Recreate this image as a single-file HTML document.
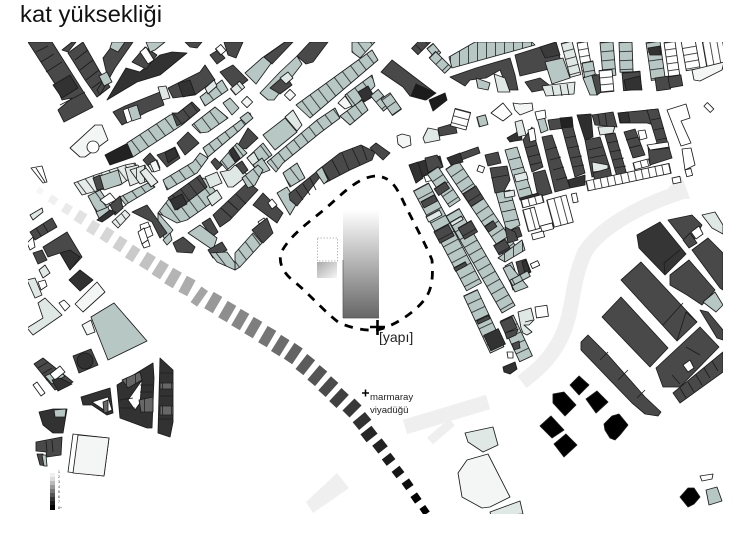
<!DOCTYPE html>
<html><head><meta charset="utf-8"><style>
html,body{margin:0;padding:0;background:#fff}
svg{display:block}
#m *{stroke:#1c1c1c;stroke-width:.85;stroke-linejoin:round}
.d{fill:url(#pd)}.k{fill:url(#pk)}.t{fill:url(#pt)}.l{fill:url(#pl)}.w{fill:url(#pw)}.x{fill:url(#px)}
.ta{fill:url(#ta)}.da{fill:url(#da)}.la{fill:url(#la)}
.D{fill:#4a4a4a}.K{fill:#303030}.T{fill:#b6c7c4}.L{fill:#dfe8e5}.W{fill:#fff}.X{fill:#f3f6f5}.B{fill:#000;stroke:#000}
</style></head><body>
<svg width="750" height="540" viewBox="0 0 750 540" xmlns="http://www.w3.org/2000/svg">
<defs>
<pattern id="pd" patternUnits="userSpaceOnUse" width="9" height="20"><rect width="9" height="20" fill="#4a4a4a"/><rect width=".8" height="20" fill="#1c1c1c"/></pattern>
<pattern id="pk" patternUnits="userSpaceOnUse" width="9" height="20"><rect width="9" height="20" fill="#2e2e2e"/><rect width=".8" height="20" fill="#111"/></pattern>
<pattern id="pt" patternUnits="userSpaceOnUse" width="9" height="20"><rect width="9" height="20" fill="#b6c7c4"/><rect width=".8" height="20" fill="#222"/></pattern>
<pattern id="pl" patternUnits="userSpaceOnUse" width="8" height="20"><rect width="8" height="20" fill="#dfe8e5"/><rect width=".8" height="20" fill="#222"/></pattern>
<pattern id="pw" patternUnits="userSpaceOnUse" width="7" height="20"><rect width="7" height="20" fill="#fff"/><rect width=".8" height="20" fill="#222"/></pattern>
<pattern id="px" patternUnits="userSpaceOnUse" width="9" height="20"><rect width="9" height="20" fill="#666"/><rect width=".8" height="20" fill="#222"/></pattern>
<pattern id="ta" patternUnits="userSpaceOnUse" width="10" height="30" patternTransform="rotate(-37)"><rect width="10" height="30" fill="#b6c7c4"/><rect width=".8" height="30" fill="#222"/></pattern>
<pattern id="da" patternUnits="userSpaceOnUse" width="10" height="30" patternTransform="rotate(-37)"><rect width="10" height="30" fill="#4a4a4a"/><rect width=".8" height="30" fill="#1c1c1c"/></pattern>
<pattern id="la" patternUnits="userSpaceOnUse" width="8" height="30" patternTransform="rotate(-37)"><rect width="8" height="30" fill="#e6ecea"/><rect width=".8" height="30" fill="#222"/></pattern>
<linearGradient id="g1" x1="0" y1="0" x2="0" y2="1"><stop offset="0" stop-color="#fff"/><stop offset="1" stop-color="#666"/></linearGradient>
<linearGradient id="g2" x1="0" y1="0" x2="1" y2="1"><stop offset="0" stop-color="#aaa"/><stop offset="1" stop-color="#f6f6f6"/></linearGradient>
<clipPath id="c"><rect x="28" y="42" width="695" height="472"/></clipPath>
<filter id="b" x="-5%" y="-5%" width="110%" height="110%"><feGaussianBlur stdDeviation=".3"/></filter>
</defs>
<rect width="750" height="540" fill="#fff"/>
<text x="20" y="22" font-family="Liberation Sans, sans-serif" font-size="23" textLength="142" lengthAdjust="spacingAndGlyphs" fill="#111">kat yüksekliği</text>

<g clip-path="url(#c)"><g filter="url(#b)">
<!-- roads -->
<path d="M682 192C640 205 600 228 585 252C570 285 575 310 560 340C548 362 535 372 522 382" stroke="#efefef" stroke-width="15" fill="none"/>
<path d="M405 427L488 402" stroke="#efefef" stroke-width="15" fill="none"/>
<path d="M430 441L452 422" stroke="#efefef" stroke-width="9" fill="none"/>
<polygon points="306,502 337,473 349,488 313,513" fill="#efefef"/>
<polygon points="668,188 682,176 690,199 672,198" fill="#efefef"/>
<g id="m">
<!-- top left -->
<polygon class="D" points="28,42 52,42 93,107 64,122 58,110 72,98 62,100 55,84"/>
<polygon class="K" points="53,85 70,75 78,88 62,98"/>
<path d="M36,52L48,46M41,62L54,54M46,72L62,62M60,105L85,92" fill="none"/>
<polygon class="D" points="62,50 72,42 76,42 68,52"/>
<polygon class="D" points="68,53 83,42 100,72 110,87 97,97 85,80"/>
<path d="M75,60L88,50M80,70L93,60M86,80L99,70M92,88L103,80" fill="none"/>
<polygon class="D" points="103,58 115,42 133,42 115,68 100,95 97,90 107,75"/>
<polygon class="T" points="112,42 125,42 118,52 110,48"/>
<polygon class="T" points="99,76 107,72 112,82 104,86"/>
<polygon class="K" points="107,100 126,68 140,72 160,55 172,52 187,53 160,75 137,82"/>
<polygon class="D" points="132,62 145,47 157,55 146,69"/>
<polygon class="W" points="140,52 146,47 154,60 148,64"/>
<polygon class="T" points="146,42 165,42 155,50 150,52"/>
<polygon class="D" points="185,42 202,42 197,48 190,47"/>
<polygon class="D" points="224,42 243,42 236,58 228,55"/>
<polygon class="D" points="210,55 218,50 225,58 217,64"/>
<rect class="w" transform="translate(218,52) rotate(-40)" x="0" y="-4" width="7" height="8"/>
<!-- upper diag -->
<polygon class="T" points="245,73 262,58 285,42 292,42 272,62 256,84"/>
<polygon class="D" points="264,57 285,42 293,42 272,64"/>
<polygon class="T" points="260,93 280,72 297,56 302,64 274,100 268,100"/>
<polygon class="D" points="270,88 285,75 292,85 280,94"/>
<polygon class="L" points="280,78 288,72 293,78 286,84"/>
<polygon class="D" points="297,56 310,42 328,42 313,62 306,64"/>
<polygon class="D" points="220,72 233,65 248,80 235,90"/>
<rect class="X" transform="translate(290,95) rotate(-45)" x="-4" y="-4" width="8" height="8"/>
<rect class="l" transform="translate(233,92) rotate(-40)" y="-4" width="12" height="8"/>
<rect class="X" transform="translate(247,102) rotate(-45)" x="-4" y="-4" width="8" height="8"/>
<!-- strip row 0 -->
<polygon class="D" points="113,112 125,106 160,92 164,105 147,112 122,125"/>
<polygon class="W" points="123,110 128,108 133,120 127,123"/>
<polygon class="T" points="128,108 137,105 141,118 132,121"/>
<polygon class="L" points="158,87 166,86 170,98 162,100"/>
<polygon class="D" points="168,88 200,72 205,65 215,80 195,95 173,98"/>
<polygon class="K" points="178,83 190,80 195,94 183,97"/>
<!-- strip row 1 -->
<polygon fill="#222" points="105,155 128,143 133,157 110,165"/>
<polygon class="ta" points="127,143 170,115 178,113 192,102 200,110 182,125 133,157"/>
<polygon class="da" points="172,113 178,113 192,102 200,110 185,122 177,126"/>
<polygon class="ta" points="200,97 222,80 228,90 205,106"/>
<polygon class="L" points="205,88 214,80 217,86 208,94"/>
<polygon class="ta" points="192,125 215,107 228,118 208,132 200,133"/>
<polygon class="T" points="223,103 230,98 239,108 232,115"/>
<polygon class="ta" points="203,148 237,123 250,113 252,118 240,130 208,157"/>
<polygon class="T" points="240,118 248,112 253,118 246,124"/>
<polygon class="D" points="177,143 188,132 199,143 185,155"/>
<polygon class="D" points="157,155 165,152 175,147 180,158 167,167"/>
<polygon class="K" points="165,152 175,148 178,156 168,163"/>
<polygon class="D" points="143,160 150,153 156,160 149,167"/>
<polygon class="L" points="148,165 155,162 158,169 152,172"/>
<polygon class="ta" points="163,180 193,162 200,153 208,158 197,173 167,190"/>
<polygon class="D" points="237,147 248,128 258,138 246,149"/>
<polygon class="ta" points="220,162 237,143 247,153 227,170"/>
<polygon class="K" points="229,151 233,147 240,158 235,162"/>
<polygon class="D" points="211,162 215,158 222,165 217,170"/>
<polygon class="L" points="220,172 230,170 235,165 248,175 233,187 228,187"/>
<polygon class="D" points="236,165 242,161 248,170 243,174"/>
<polygon class="T" points="263,135 285,118 297,132 275,150"/>
<polygon class="L" points="285,117 293,110 302,125 297,131"/>
<polygon class="ta" points="247,158 263,143 272,155 255,168"/>
<polygon class="L" points="247,158 254,152 260,163 255,168"/>
<polygon class="ta" points="267,162 317,120 335,108 340,118 320,133 283,163 276,172"/>
<polygon class="ta" points="296,105 372,50 378,60 310,118"/>
<polygon class="ta" points="345,95 372,75 375,86 353,108"/>
<polygon class="ta" points="340,116 362,100 368,110 350,125"/>
<polygon class="X" points="338,103 345,96 352,106 345,109"/>
<polygon class="K" points="358,92 368,86 374,96 364,102"/>
<polygon class="ta" points="352,42 375,42 360,58 352,52"/>
<polygon class="T" points="277,193 287,187 297,203 290,215"/>
<polygon class="ta" points="283,173 297,163 305,178 290,187"/>
<polygon class="T" points="253,165 262,158 270,170 260,174"/>
<polygon class="D" points="253,205 263,193 283,213 277,223"/>
<polygon class="W" points="268,203 272,199 277,205 272,209"/>
<polygon class="W" points="258,222 264,218 270,226 264,230"/>
<polygon class="D" points="252,230 258,225 267,218 273,233 263,243"/>
<polygon class="ta" points="235,253 253,233 262,243 240,267 235,270"/>
<polygon class="D" points="213,215 248,182 258,190 230,220 220,227"/>
<path d="M221,208L232,218M228,201L238,210M236,194L246,204" fill="none"/>
<polygon class="ta" points="242,178 258,165 263,170 255,185 248,188"/>
<polygon class="D" points="202,223 210,218 218,232 212,237"/>
<polygon class="T" points="188,233 200,225 217,238 213,250"/>
<polygon class="D" points="208,250 222,242 227,250 213,258"/>
<polygon class="ta" points="210,253 227,252 235,263 235,270 217,262"/>
<polygon class="ta" points="158,213 168,200 203,178 207,180 220,197 187,220 177,223"/>
<polygon class="da" points="168,198 200,175 207,187 177,210"/>
<polygon class="K" points="170,200 182,194 187,204 175,210"/>
<polygon class="L" points="205,177 217,172 222,183 210,188"/>
<polygon class="L" points="207,197 217,190 222,198 212,206"/>
<polygon class="T" points="158,213 173,230 165,240 158,225"/>
<polygon class="D" points="132,212 147,205 167,233 160,238 152,222"/>
<polygon class="W" points="140,225 148,222 153,235 143,240"/>
<path d="M141,230L151,226" fill="none"/>
<polygon class="T" points="163,240 170,233 172,240 167,245"/>
<polygon class="D" points="173,243 183,237 195,247 192,253 177,252"/>
<!-- left light cluster -->
<polygon class="la" points="74,183 95,175 125,165 135,163 140,172 120,185 100,190 82,195"/>
<polygon class="D" points="93,178 100,175 105,188 97,190"/>
<polygon class="T" points="100,176 118,170 122,184 104,190"/>
<polygon class="L" points="125,168 138,165 145,180 130,186"/>
<polygon class="l" points="130,170 145,165 150,180 140,184"/>
<polygon class="ta" points="88,196 100,190 110,205 98,215"/>
<polygon class="W" points="100,200 110,193 116,200 106,205"/>
<polygon class="ta" points="120,197 150,182 155,187 125,205"/>
<polygon class="W" points="110,205 120,198 126,205 115,212"/>
<polygon class="D" points="110,205 120,196 123,208 115,215"/>
<polygon class="T" points="96,212 108,207 111,215 100,220"/>
<polygon class="K" points="97,220 110,210 116,212 108,218 102,222"/>
<polygon class="la" points="112,222 125,210 130,215 118,228"/>
<polygon class="W" points="138,232 144,228 148,240 142,244"/>
<polygon class="W" points="142,244 148,240 150,246 144,248"/>
<polygon class="T" points="152,163 157,160 160,168 154,171"/>
<polygon class="X" points="150,163 156,160 160,170 154,172"/>
<polygon class="la" points="140,172 146,168 158,182 151,187"/>
<!-- dark arc -->
<polygon class="D" points="289,194 315,173 318,170 340,153 361,145 375,152 372,160 350,170 325,183 320,177 297,206 290,200"/>
<path d="M296,190L303,200M303,184L310,195M310,178L316,190M322,167L330,181M332,160L340,175M342,153L349,170M352,148L360,165M362,146L367,160" fill="none"/>
<polygon class="T" points="316,172 322,167 328,180 324,184"/>
<!-- top centre diag -->
<polygon class="D" points="381,72 392,60 434,92 425,100 410,96 403,87"/>
<polygon fill="#1e1e1e" points="416,84 436,93 426,100 411,96"/>
<polygon fill="#1e1e1e" points="429,100 445,93 447,100 433,111"/>
<rect class="d" transform="translate(425,42) rotate(-45)" x="-14" y="-5" width="20" height="9"/>
<rect class="t" transform="translate(430,46) rotate(50)" y="-4" width="12" height="8"/>
<rect class="t" transform="translate(432,55) rotate(45)" y="-5" width="22" height="9"/>
<rect class="t" transform="translate(378,100) rotate(50)" x="-8" y="-7" width="20" height="10"/>
<rect class="t" transform="translate(390,105) rotate(55)" x="-10" y="-7" width="20" height="11"/>
<polygon class="D" points="376,143 390,153 383,160 370,148"/>
<!-- upper right top block -->
<polygon class="t" points="449,57 452,68 535,45 532,42 475,42"/>
<polygon class="D" points="450,77 476,68 510,58 515,75 518,90 508,90 500,70 486,78 470,80 465,86"/>
<polygon class="T" points="476,78 490,83 488,90 478,88"/>
<polygon class="L" points="494,74 505,78 510,92 498,92"/>
<polygon class="D" points="515,55 556,42 562,66 520,76"/>
<polygon fill="#3a3a3a" points="540,47 556,42 560,55 545,58"/>
<polygon class="T" points="545,62 563,58 570,78 552,84"/>
<polygon class="D" points="525,82 540,78 553,88 532,92"/>
<polygon class="L" points="542,86 575,82 574,94 546,96"/>
<path d="M552,86L554,96M560,85L562,96M567,84L569,95" fill="none"/>
<!-- cols top -->
<rect class="l" transform="translate(567,42) rotate(75)" y="-5" width="35" height="11"/>
<rect class="w" transform="translate(582,42) rotate(80)" y="-5" width="35" height="10"/>
<rect class="t" transform="translate(587,62) rotate(80)" y="-6" width="20" height="11"/>
<polygon class="T" points="583,78 596,74 603,88 597,95 590,95"/>
<polygon class="D" points="592,76 601,74 604,90 597,95"/>
<rect class="t" transform="translate(606,42) rotate(85)" y="-7" width="34" height="13"/>
<rect class="w" transform="translate(605,70) rotate(85)" y="-7" width="22" height="13"/>
<rect class="t" transform="translate(625,42) rotate(88)" y="-7" width="30" height="13"/>
<rect class="d" transform="translate(631,72) rotate(85)" x="0" y="-9" width="18" height="18"/>
<polygon class="K" points="624,80 640,76 642,90 626,90"/>
<rect class="t" transform="translate(652,42) rotate(82)" y="-8" width="38" height="14"/>
<polygon class="K" points="648,48 660,46 661,55 650,55"/>
<rect class="D" transform="translate(655,78) rotate(-8)" width="14" height="13"/>
<rect class="D" transform="translate(668,77) rotate(-10)" width="13" height="11"/>
<rect class="w" transform="translate(669,42) rotate(82)" y="-6" width="34" height="11"/>
<rect class="w" transform="translate(688,40) rotate(80)" y="-7" width="30" height="14"/>
<rect class="w" transform="translate(702,40) rotate(-10)" y="2" width="20" height="30"/>
<polygon class="X" points="692,70 724,62 722,70 700,81 694,80"/>
<!-- mid white row -->
<polygon class="L" points="423,138 428,128 438,130 440,140 425,143"/>
<polygon class="D" points="438,128 455,123 457,133 440,136"/>
<rect class="w" transform="translate(459,125) rotate(-75)" x="-3" y="-8" width="18" height="16"/>
<rect class="t" transform="translate(478,122) rotate(-15)" y="-5" width="9" height="10"/>
<polygon class="W" points="491,113 503,103 512,114 503,121"/>
<polygon class="X" points="513,103 520,104 532,103 533,110 520,115 515,110"/>
<polygon class="X" points="397,136 402,134 410,136 411,145 403,148 398,144"/>
<!-- row blocks (upper right) -->
<polygon class="K" points="507,138 521,130 522,140 515,141 510,142"/>
<polygon class="L" points="515,122 522,120 526,135 518,137"/>
<polygon class="T" points="505,150 517,147 533,197 520,200"/>
<path d="M509,160L521,157M512,170L524,167M516,180L527,177M519,190L530,187" fill="none"/>
<polygon class="L" points="514,175 526,172 528,179 516,182"/>
<polygon class="D" points="523,140 532,127 543,167 532,172"/>
<path d="M525,148L537,145M528,157L540,154M530,165L542,162" fill="none"/>
<polygon class="D" points="533,173 545,170 552,193 538,197"/>
<polygon class="K" points="520,198 538,193 540,200 523,204"/>
<polygon class="W" points="528,130 534,128 536,140 530,142"/>
<polygon class="T" points="537,118 544,116 548,130 541,133"/>
<polygon class="W" points="535,112 545,110 546,118 537,120"/>
<polygon class="D" points="542,137 552,135 570,188 555,192"/>
<path d="M546,150L557,147M550,160L561,157M553,170L564,167M556,180L567,177" fill="none"/>
<polygon class="D" points="548,120 572,117 573,127 550,130"/>
<polygon fill="#222" points="560,118 572,117 573,127 562,129"/>
<polygon class="D" points="562,128 573,127 585,173 575,177"/>
<path d="M565,138L576,136M568,148L579,146M571,158L582,156M573,167L584,165" fill="none"/>
<polygon class="K" points="568,180 585,175 585,185 570,188"/>
<polygon fill="#2e2e2e" points="577,115 591,114 593,137 585,140"/>
<polygon class="D" points="585,140 600,137 610,168 592,177"/>
<path d="M588,150L602,147M590,158L605,155" fill="none"/>
<polygon class="L" points="592,162 608,165 608,170 593,172"/>
<polygon class="D" points="593,173 610,168 612,178 595,182"/>
<polygon class="L" points="598,127 615,126 613,133 600,135"/>
<polygon class="D" points="592,115 613,112 617,127 595,125"/>
<path d="M598,114L600,125M605,113L607,126" fill="none"/>
<polygon class="D" points="605,135 615,133 627,175 617,177"/>
<path d="M607,143L618,141M610,152L621,150M613,160L624,158M615,168L626,166" fill="none"/>
<polygon class="D" points="618,113 658,109 660,127 647,123 620,123"/>
<polygon class="K" points="618,113 628,112 630,122 621,123"/>
<polygon class="D" points="647,110 658,109 672,158 650,165 648,147 657,143"/>
<path d="M651,120L661,118M654,130L664,128M657,140L667,138M652,150L670,148" fill="none"/>
<polygon class="D" points="624,132 635,129 645,155 633,158"/>
<path d="M626,140L638,137M629,148L641,145" fill="none"/>
<polygon class="W" points="638,131 645,130 647,138 640,140"/>
<rect class="w" transform="translate(633,163) rotate(-15)" width="16" height="7"/>
<polygon class="W" points="647,145 668,142 669,147 650,150"/>
<!-- white rows -->
<polygon class="W" points="667,110 686,104 690,118 681,121 691,143 681,146"/>
<polygon class="W" points="682,149 691,148 695,165 685,170"/>
<rect class="W" transform="translate(685,170) rotate(-15)" width="6" height="7"/>
<rect class="W" transform="translate(706,104) rotate(45)" y="-2" width="9" height="5"/>
<rect class="w" transform="translate(587,186) rotate(-12)" y="-5" width="85" height="10"/>
<rect class="W" transform="translate(572,197) rotate(-12)" y="-3" width="5" height="9"/>
<rect class="W" transform="translate(672,178) rotate(-12)" width="8" height="6"/>
<rect class="w" transform="translate(522,205) rotate(-15)" y="-5" width="22" height="8"/>
<rect class="w" transform="translate(524,215) rotate(-15)" y="-5" width="12" height="22"/>
<rect class="w" transform="translate(548,205) rotate(-15)" y="-5" width="20" height="28"/>
<rect class="W" transform="translate(541,228) rotate(-15)" y="-2" width="12" height="6"/>
<rect class="W" transform="translate(532,236) rotate(-15)" y="-2" width="12" height="6"/>
<rect class="W" transform="translate(478,168) rotate(20)" y="-3" width="6" height="6"/>
<!-- columns from detail crop -->
<polygon class="K" points="409,165 425,160 440,156 443,167 425,175 416,183"/>
<polygon class="D" points="425,158 437,155 443,167 428,172"/>
<polygon class="K" points="409,165 418,162 423,178 416,183"/>
<polygon class="W" points="424,176 431,174 433,180 426,182"/>
<!-- A1 -->
<rect class="t" transform="translate(421,187) rotate(62)" y="-8.500" width="113" height="17"/>
<rect class="d" transform="translate(428,198) rotate(62)" y="-7" width="7" height="15"/>
<rect class="l" transform="translate(433,213) rotate(62)" y="-7" width="6" height="15"/>
<rect class="d" transform="translate(441,228) rotate(62)" y="-8" width="13" height="16"/>
<rect class="d" transform="translate(459,265) rotate(62)" y="-7" width="4" height="13"/>
<!-- A2 -->
<rect class="t" transform="translate(433,170) rotate(56)" y="-6" width="40" height="13"/>
<rect class="d" transform="translate(440,185) rotate(56)" y="-6" width="8" height="13"/>
<!-- B1 -->
<rect class="t" transform="translate(453,212) rotate(60)" y="-7" width="112" height="15"/>
<rect class="l" transform="translate(456,219) rotate(60)" y="-6" width="4" height="13"/>
<rect class="d" transform="translate(465,224) rotate(60)" y="-7" width="13" height="15"/>
<!-- B2 -->
<rect class="t" transform="translate(452,165) rotate(56)" y="-7.500" width="105" height="15"/>
<rect class="d" transform="translate(469,190) rotate(58)" y="-8" width="15" height="15"/>
<rect class="d" transform="translate(488,224) rotate(56)" y="-6" width="7" height="10"/>
<rect class="d" transform="translate(498,243) rotate(60)" y="-8" width="11" height="13"/>
<polygon class="D" points="447,158 478,147 480,153 451,164"/>
<polygon class="K" points="447,158 460,153 463,162 451,165"/>
<!-- C -->
<polygon class="D" points="485,155 498,152 501,163 488,166"/>
<polygon class="D" points="490,168 507,166 510,180 503,193 495,193"/>
<path d="M491,178L508,175" fill="none"/>
<polygon class="T" points="496,193 510,190 520,225 507,232"/>
<path d="M499,203L513,200M502,212L516,209M505,222L519,219" fill="none"/>
<polygon class="L" points="504,192 514,190 515,196 505,198"/>
<polygon class="D" points="507,232 519,227 522,236 511,240"/>
<polygon class="t" points="498,258 522,240 525,250 505,262"/>
<polygon class="D" points="505,227 515,232 518,240 508,243"/>
<!-- lower centre -->
<polygon class="T" points="505,266 512,262 520,285 513,290"/>
<polygon class="T" points="503,268 510,265 528,287 515,292"/>
<polygon class="D" points="516,262 526,259 531,272 520,278"/>
<polygon class="K" points="522,262 526,260 530,272 525,274"/>
<rect class="W" transform="translate(533,265) rotate(-25)" x="-2" y="-2" width="8" height="5"/>
<rect class="t" transform="translate(513,282) rotate(-28)" x="-2" y="-3" width="20" height="6"/>
<!-- A3 -->
<rect class="t" transform="translate(470,293) rotate(65)" y="-8" width="63" height="15"/>
<rect class="d" transform="translate(482,318) rotate(65)" y="-7" width="4" height="13"/>
<rect class="K" transform="translate(491,332) rotate(65)" y="-8" width="17" height="16"/>
<rect class="t" transform="translate(507,318) rotate(65)" y="-7" width="45" height="14"/>
<polygon class="D" points="500,322 512,317 517,328 505,333"/>
<polygon class="D" points="505,333 518,329 516,335 507,339"/>
<polygon class="D" points="512,344 519,341 520,348 514,350"/>
<polygon class="W" points="507,352 513,352 513,358 508,358"/>
<polygon class="K" points="503,367 515,362 517,369 510,374 504,372"/>
<!-- pavilion near road -->
<polygon class="L" points="518,312 531,308 534,320 529,325 524,325 532,332 527,335 523,333 521,328"/>
<rect class="W" transform="translate(535,307) rotate(-8)" width="12" height="11"/>
<path d="M525,322L533,320" fill="none"/>
<!-- right blocks -->
<polygon fill="#363636" points="637,235 660,222 686,254 665,275 639,248"/>
<path d="M665,275L664,263L680,250" fill="none"/>
<polygon class="D" points="621,280 641,262 697,322 677,341"/>
<path d="M663,325L683,303M677,341L686,312L697,322" fill="none"/>
<polygon class="D" points="602,317 621,297 668,348 650,367"/>
<polygon class="D" points="581,342 588,335 608,355 645,397 661,412 658,416 645,414 632,403 581,350"/>
<path d="M600,360L608,352M618,380L628,370M637,398L645,390" fill="none"/>
<polygon class="D" points="668,220 692,215 702,225 690,247 682,238"/>
<polygon class="D" points="692,250 708,238 723,253 723,290 720,288"/>
<polygon class="D" points="670,275 689,260 715,290 702,305 687,295 670,285"/>
<polygon class="W" points="691,232 699,226 703,234 696,239"/>
<polygon class="D" points="683,240 690,233 697,243 689,248"/>
<polygon class="T" points="703,302 715,292 723,305 716,312"/>
<polygon class="D" points="700,310 708,312 723,330 723,340 717,338"/>
<polygon class="L" points="702,215 715,212 723,225 723,234 712,228"/>
<polygon class="D" points="656,368 700,327 719,347 680,387 663,387"/>
<polygon class="W" points="683,365 690,360 694,368 688,372"/>
<path d="M672,375L680,384M686,347L700,355" fill="none"/>
<polygon class="D" points="673,393 723,352 723,372 680,403"/>
<path d="M680,388L686,398M688,382L694,392M696,375L702,385M704,368L710,378M712,361L718,371" fill="none"/>
<!-- black -->
<polygon class="B" points="579,376 589,385 579,395 570,385"/>
<polygon class="B" points="553,394 564,392 576,405 565,416 553,403"/>
<polygon class="B" points="586,399 597,391 608,402 596,413"/>
<polygon class="B" points="540,426 551,416 564,430 552,438"/>
<polygon class="B" points="554,444 566,434 577,445 564,457"/>
<polygon class="B" points="604,424 612,416 619,414 628,425 620,435 615,440 610,438 605,430"/>
<polygon class="B" points="680,497 688,488 694,488 700,497 694,504 688,507"/>
<!-- bottom centre -->
<polygon class="L" points="465,433 493,427 498,445 483,452 468,442"/>
<polygon class="X" points="458,473 467,460 488,454 510,497 490,507 482,508 462,497"/>
<polygon class="L" points="490,512 520,501 523,514 491,516"/>
<polygon class="W" points="700,476 713,474 712,479 702,481"/>
<polygon class="T" points="706,490 717,487 722,501 709,505"/>
<!-- left lower -->
<polygon class="W" points="31,168 42,166 47,182 43,183"/>
<path d="M36,168L45,182" fill="none"/>
<polygon class="D" points="30,232 52,218 57,227 35,240"/>
<path d="M36,228L41,236M43,224L48,232" fill="none"/>
<polygon class="L" points="30,215 42,208 43,212 33,220"/>
<polygon class="D" points="43,247 67,232 82,257 70,270 60,253 48,257"/>
<polygon class="K" points="60,253 70,250 80,257 70,270"/>
<polygon class="W" points="27,243 33,237 35,247 30,250"/>
<polygon class="D" points="33,253 42,250 47,260 38,264"/>
<polygon class="L" points="39,270 45,265 50,273 43,278"/>
<polygon class="K" points="69,280 80,270 93,280 80,291"/>
<polygon class="L" points="27,280 35,278 42,295 35,298"/>
<polygon class="W" points="38,282 45,280 47,286 41,290"/>
<polygon class="L" points="27,328 43,318 38,303 45,298 55,308 62,315 33,335"/>
<polygon class="W" points="59,303 64,300 70,306 65,311"/>
<polygon class="X" points="75,304 97,282 105,292 83,312"/>
<polygon class="T" points="91,317 114,303 147,341 108,360"/>
<polygon class="X" points="82,325 91,320 95,332 87,335"/>
<polygon fill="#444" points="73,356 91,349 98,365 79,373"/>
<circle class="K" cx="85" cy="361" r="8"/>
<polygon class="D" points="34,364 43,358 73,382 55,390"/>
<path d="M38,368L48,362M42,374L52,368M46,380L56,373" fill="none"/>
<polygon class="T" points="45,376 58,370 65,376 52,384"/>
<polygon class="W" points="50,374 60,366 65,372 55,380"/>
<polygon class="K" points="52,380 60,378 72,384 58,391"/>
<polygon class="W" points="33,385 37,382 45,393 41,396"/>
<polygon class="K" points="81,397 110,388 113,413 107,415 92,405 83,405"/>
<polygon class="W" points="92,402 108,397 112,410 107,412"/>
<polygon class="x" points="103,402 108,400 108,412 104,413"/>
<polygon class="K" points="117,385 153,363 154,378 152,428 147,428 120,418"/>
<polygon class="W" points="128,400 142,380 140,403 135,410"/>
<polygon class="x" points="122,380 140,372 142,380 128,388"/>
<polygon class="x" points="139,400 153,397 153,412 141,412"/>
<path d="M120,400L133,398M120,408L135,408M140,385L153,385M140,392L153,392" fill="none"/>
<polygon class="K" points="160,358 173,370 173,422 170,437 158,433"/>
<rect class="x" x="160" y="383" width="13" height="6"/>
<rect class="x" x="160" y="406" width="13" height="9"/>
<path d="M160,373H173M160,396H173M159,419H173" fill="none"/>
<polygon class="K" points="39,412 53,409 67,409 63,433 53,433 43,425"/>
<polygon class="T" points="54,410 66,409 65,417 55,417"/>
<polygon class="D" points="36,442 62,437 61,455 47,457 46,452 36,451"/>
<path d="M46,441L47,452M52,440L53,452" fill="none"/>
<polygon class="D" points="37,454 43,454 47,466 40,465"/>
<polygon class="T" points="42,455 46,455 47,466 44,466"/>
<polygon class="W" points="73,434 109,438 104,476 68,472"/>
<polygon class="X" points="78,435 109,438 104,476 73,473"/>
<polygon class="X" points="70,148 95,125 102,125 108,140 85,157 80,157"/>
<circle class="W" cx="93" cy="147" r="6"/>
</g>
<!-- viaduct -->
<rect transform="translate(40,191) rotate(-58)" x="-3" y="-3" width="6" height="6" fill="#f6f6f6"/>
<rect transform="translate(53,200) rotate(-58)" x="-4" y="-4" width="8" height="8" fill="#f0f0f0"/>
<rect transform="translate(67,209) rotate(-58)" x="-5" y="-4" width="10" height="8" fill="#eaeaea"/>
<rect transform="translate(80,217) rotate(-58)" x="-6" y="-4" width="12" height="9" fill="#e2e2e2"/>
<rect transform="translate(93,227) rotate(-58)" x="-7" y="-4" width="13" height="9" fill="#dcdcdc"/>
<rect transform="translate(107,235) rotate(-58)" x="-7" y="-4.500" width="14" height="9" fill="#d6d6d6"/>
<rect transform="translate(120,244) rotate(-58)" x="-7" y="-4.500" width="14" height="9" fill="#d0d0d0"/>
<rect transform="translate(133,253) rotate(-58)" x="-8" y="-4.500" width="15" height="9" fill="#cacaca"/>
<rect transform="translate(147,261) rotate(-58)" x="-8" y="-4.500" width="16" height="10" fill="#c2c2c2"/>
<rect transform="translate(160,270) rotate(-58)" x="-8" y="-5" width="17" height="10" fill="#bcbcbc"/>
<rect transform="translate(173,278) rotate(-60)" x="-9" y="-5" width="18" height="10" fill="#b4b4b4"/>
<rect transform="translate(187,286) rotate(-62)" x="-9" y="-5" width="18" height="10" fill="#acacac"/>
<rect transform="translate(199,297) rotate(-55)" x="-9" y="-4" width="19" height="8" fill="#a4a4a4"/>
<rect transform="translate(213,303) rotate(-60)" x="-9" y="-5" width="19" height="10" fill="#989898"/>
<rect transform="translate(227,312) rotate(-60)" x="-9" y="-5" width="19" height="10" fill="#8e8e8e"/>
<rect transform="translate(240,320) rotate(-60)" x="-9" y="-5" width="19" height="10" fill="#868686"/>
<rect transform="translate(253,328) rotate(-60)" x="-9" y="-5" width="19" height="10" fill="#7e7e7e"/>
<rect transform="translate(267,337) rotate(-60)" x="-9" y="-5" width="19" height="10" fill="#747474"/>
<rect transform="translate(280,346) rotate(-58)" x="-9" y="-5" width="19" height="10" fill="#6c6c6c"/>
<rect transform="translate(293,354) rotate(-56)" x="-9" y="-5" width="19" height="10" fill="#646464"/>
<rect transform="translate(305,365) rotate(-52)" x="-9" y="-5" width="19" height="10" fill="#5c5c5c"/>
<rect transform="translate(317,376) rotate(-50)" x="-9" y="-5" width="19" height="10" fill="#545454"/>
<rect transform="translate(328,387) rotate(-48)" x="-9" y="-5" width="19" height="10" fill="#4c4c4c"/>
<rect transform="translate(339,398) rotate(-47)" x="-9" y="-5" width="18" height="10" fill="#404040"/>
<rect transform="translate(352,408) rotate(-45)" x="-8.500" y="-5" width="17" height="10" fill="#383838"/>
<rect transform="translate(362,421) rotate(-40)" x="-8" y="-5" width="16" height="10" fill="#303030"/>
<rect transform="translate(369,434) rotate(-38)" x="-7" y="-5" width="14" height="10" fill="#282828"/>
<rect transform="translate(380,446) rotate(-38)" x="-6" y="-5" width="12" height="10" fill="#222"/>
<rect transform="translate(389,459) rotate(-38)" x="-6" y="-4" width="11" height="8" fill="#1c1c1c"/>
<rect transform="translate(398,472) rotate(-38)" x="-5" y="-4" width="10" height="8" fill="#161616"/>
<rect transform="translate(408,484) rotate(-35)" x="-5" y="-4" width="9" height="8" fill="#0e0e0e"/>
<rect transform="translate(416,498) rotate(-35)" x="-4" y="-4" width="8" height="8" fill="#060606"/>
<rect transform="translate(425,510) rotate(-35)" x="-4" y="-4" width="7" height="8" fill="#000"/>
</g></g>
<!-- yapi -->
<rect x="343" y="210" width="36" height="108" fill="url(#g1)"/>
<path d="M343 318V260M343 318H379" stroke="#555" stroke-width=".7" fill="none"/>
<rect x="317.500" y="238" width="20" height="23" fill="none" stroke="#bbb" stroke-width="1" stroke-dasharray="1.500 1.500"/>
<rect x="317" y="262" width="20" height="16" fill="url(#g2)"/>
<path d="M375 176C355 178 340 197 320 213C305 225 288 238 281 253C278 265 285 275 296 283C310 295 325 312 338 322C350 328 365 331 377 330C395 326 415 312 425 299C433 288 433 274 432 260C426 245 415 225 405 205C398 190 393 180 382 177" fill="none" stroke="#000" stroke-width="2.800" stroke-dasharray="8.500 7.500"/>
<path d="M370 327H385M377.500 320V335" stroke="#000" stroke-width="2.600" fill="none"/>
<text x="379" y="342" font-family="Liberation Sans, sans-serif" font-size="14" fill="#222">[yapı]</text>
<path d="M362 393H369M365.500 389.500V396.500" stroke="#000" stroke-width="1.500" fill="none"/>
<text x="370" y="400" font-family="Liberation Sans, sans-serif" font-size="9.600" fill="#222">marmaray</text>
<text x="370" y="413" font-family="Liberation Sans, sans-serif" font-size="9.600" fill="#222">viyadüğü</text>
<!-- legend -->
<rect x="50" y="473" width="5" height="5" fill="#efefef"/><rect x="50" y="477" width="5" height="5" fill="#dcdcdc"/><rect x="50" y="481" width="5" height="5" fill="#bbb"/><rect x="50" y="485" width="5" height="5" fill="#999"/><rect x="50" y="489" width="5" height="5" fill="#777"/><rect x="50" y="493" width="5" height="5" fill="#555"/><rect x="50" y="497" width="5" height="5" fill="#333"/><rect x="50" y="501" width="5" height="5" fill="#1a1a1a"/><rect x="50" y="505" width="5" height="5" fill="#000"/>
<g font-family="Liberation Sans, sans-serif" font-size="3.500" fill="#333"><text x="58" y="473">1</text><text x="58" y="478">2</text><text x="58" y="483">3</text><text x="58" y="488">4</text><text x="58" y="493">5</text><text x="58" y="498">6</text><text x="58" y="503">7</text><text x="58" y="509">8+</text></g>
</svg>
</body></html>
